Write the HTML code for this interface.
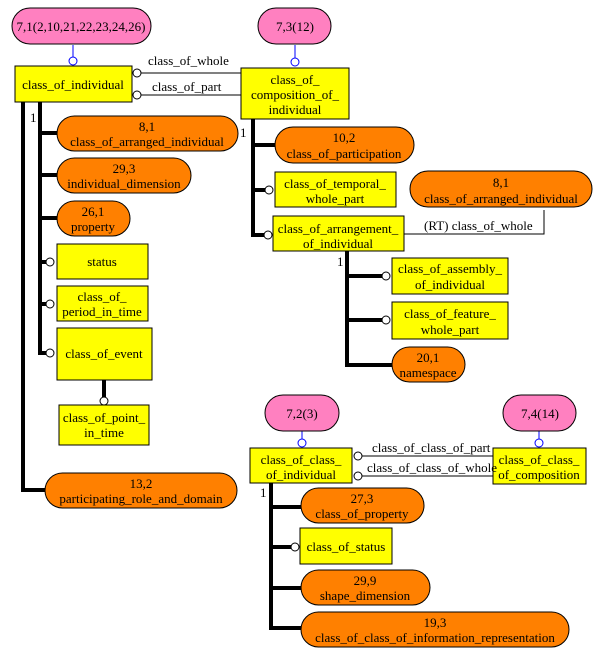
<!DOCTYPE html>
<html><head><style>body{margin:0;background:#fff}svg{display:block}text{font-family:"Liberation Serif",serif;font-size:13px;fill:#000}</style></head><body>
<svg width="600" height="656" xmlns="http://www.w3.org/2000/svg">
<g stroke="#000" stroke-width="1">
<!-- thick lines -->
<g stroke-width="4" fill="none">
<path d="M23,102V490H45"/>
<path d="M40,102V353H46"/>
<path d="M40,133H57M40,175H57M40,218H57M40,262H46M40,304H46"/>
<path d="M104,380V397"/>
<path d="M253,119V235H264M253,145H275M253,190H265"/>
<path d="M347,251V365H392M347,276H382M347,320H382"/>
<path d="M271,483V628H301M271,507H301M271,547H291M271,588H301"/>
</g>
<!-- thin connectors -->
<path d="M141,73H242M141,95H242M404,234H544V210M362,456H493M362,476H493" fill="none"/>
<path d="M73,45V57M295,45V58M302,431V439M539,431V439" stroke="#00f" fill="none"/>
<!-- pills -->
<g fill="#ff80c0">
<rect x="12" y="8" width="139" height="36" rx="18"/>
<rect x="258" y="8" width="73" height="36" rx="18"/>
<rect x="265" y="395" width="74" height="36" rx="18"/>
<rect x="503" y="395" width="73" height="36" rx="18"/>
</g>
<g fill="#ff8000">
<rect x="57" y="116" width="181" height="35" rx="17.5"/>
<rect x="57" y="158" width="134" height="35" rx="17.5"/>
<rect x="57" y="201" width="73" height="35" rx="17.5"/>
<rect x="45" y="473" width="192" height="35" rx="17.5"/>
<rect x="275" y="127" width="139" height="36" rx="18"/>
<rect x="410" y="171" width="182" height="36" rx="18"/>
<rect x="392" y="347" width="73" height="35" rx="17.5"/>
<rect x="301" y="488" width="123" height="35" rx="17.5"/>
<rect x="301" y="570" width="129" height="35" rx="17.5"/>
<rect x="301" y="612" width="268" height="35" rx="17.5"/>
</g>
<g fill="#ffff00">
<rect x="15" y="66" width="117" height="36"/>
<rect x="241" y="68" width="108" height="51"/>
<rect x="57" y="244" width="91" height="35"/>
<rect x="57" y="286" width="91" height="35"/>
<rect x="57" y="328" width="95" height="52"/>
<rect x="59" y="405" width="90" height="40"/>
<rect x="275" y="172" width="121" height="35"/>
<rect x="273" y="216" width="131" height="35"/>
<rect x="392" y="258" width="116" height="36"/>
<rect x="392" y="302" width="116" height="37"/>
<rect x="250" y="448" width="102" height="35"/>
<rect x="493" y="448" width="93" height="36"/>
<rect x="300" y="528" width="92" height="36"/>
</g>
<!-- circles -->
<g fill="#fff">
<circle cx="137" cy="73" r="4"/><circle cx="137" cy="95" r="4"/>
<circle cx="50" cy="262" r="4"/><circle cx="50" cy="304" r="4"/><circle cx="50" cy="353" r="4"/>
<circle cx="104" cy="401" r="4"/>
<circle cx="269" cy="190" r="4"/><circle cx="268" cy="235" r="4"/>
<circle cx="386" cy="276" r="4"/><circle cx="386" cy="320" r="4"/>
<circle cx="358" cy="456" r="4"/><circle cx="358" cy="476" r="4"/>
<circle cx="295" cy="547" r="4"/>
</g>
<g fill="#fff" stroke="#00f">
<circle cx="73" cy="61" r="4"/><circle cx="295" cy="62" r="4"/><circle cx="302" cy="443" r="4"/><circle cx="539" cy="443" r="4"/>
</g>
</g>
<g text-anchor="middle">
<text x="81" y="31">7,1(2,10,21,22,23,24,26)</text>
<text x="295" y="31">7,3(12)</text>
<text x="302" y="418">7,2(3)</text>
<text x="540" y="418">7,4(14)</text>
<text x="73" y="89">class_of_individual</text>
<text x="295" y="84">class_of_</text><text x="295" y="99">composition_of_</text><text x="295" y="114">individual</text>
<text x="147" y="131">8,1</text><text x="147" y="146">class_of_arranged_individual</text>
<text x="124" y="173">29,3</text><text x="124" y="188">individual_dimension</text>
<text x="93" y="216">26,1</text><text x="93" y="231">property</text>
<text x="102" y="266">status</text>
<text x="102" y="301">class_of_</text><text x="102" y="316">period_in_time</text>
<text x="104" y="358">class_of_event</text>
<text x="104" y="422">class_of_point_</text><text x="104" y="437">in_time</text>
<text x="141" y="488">13,2</text><text x="141" y="503">participating_role_and_domain</text>
<text x="344" y="142">10,2</text><text x="344" y="158">class_of_participation</text>
<text x="335" y="188">class_of_temporal_</text><text x="335" y="203">whole_part</text>
<text x="501" y="187">8,1</text><text x="501" y="203">class_of_arranged_individual</text>
<text x="338" y="233">class_of_arrangement_</text><text x="338" y="248">of_individual</text>
<text x="450" y="273">class_of_assembly_</text><text x="450" y="289">of_individual</text>
<text x="450" y="318">class_of_feature_</text><text x="450" y="334">whole_part</text>
<text x="428" y="362">20,1</text><text x="428" y="377">namespace</text>
<text x="301" y="464">class_of_class_</text><text x="301" y="479">of_individual</text>
<text x="539" y="464">class_of_class_</text><text x="539" y="479">of_composition</text>
<text x="362" y="503">27,3</text><text x="362" y="518">class_of_property</text>
<text x="346" y="551">class_of_status</text>
<text x="365" y="585">29,9</text><text x="365" y="600">shape_dimension</text>
<text x="435" y="627">19,3</text><text x="435" y="642">class_of_class_of_information_representation</text>
</g>
<text x="148" y="65">class_of_whole</text>
<text x="152" y="91">class_of_part</text>
<text x="424" y="230">(RT) class_of_whole</text>
<text x="372" y="452">class_of_class_of_part</text>
<text x="367" y="472">class_of_class_of_whole</text>
<text x="30" y="122">1</text>
<text x="240" y="137">1</text>
<text x="337" y="266">1</text>
<text x="260" y="497">1</text>
</svg>
</body></html>
